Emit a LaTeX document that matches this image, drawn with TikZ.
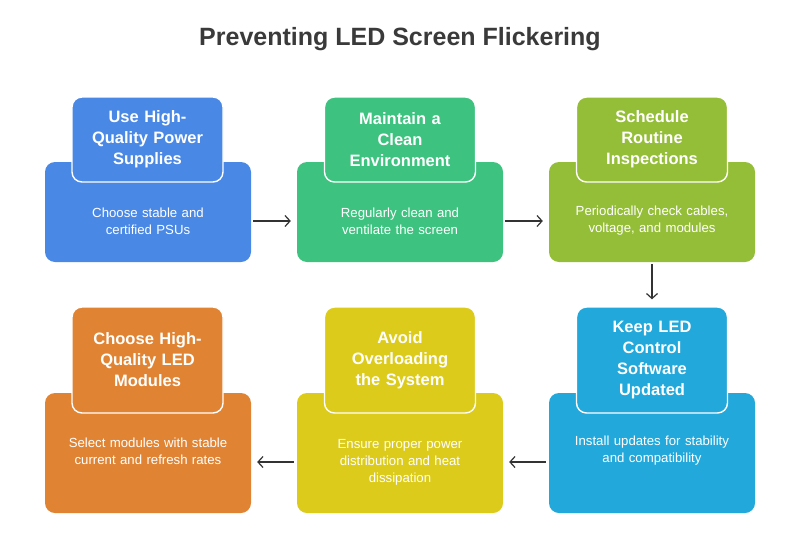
\documentclass[tikz,border=0pt]{standalone}
\usepackage{fontspec}
\setmainfont{Liberation Sans}
\usetikzlibrary{arrows.meta,calc}
\definecolor{cblue}{HTML}{4A88E6}
\definecolor{cgreen}{HTML}{3DC37F}
\definecolor{clime}{HTML}{95BE38}
\definecolor{csky}{HTML}{22A8DA}
\definecolor{cyellow}{HTML}{DCCB1A}
\definecolor{corange}{HTML}{E08434}
\definecolor{ctitle}{HTML}{3A3A3A}
\definecolor{carrow}{HTML}{333333}
\tikzset{
  basebox/.style={rounded corners=10pt, minimum width=206pt, inner sep=0pt},
  tabbox/.style={rounded corners=10pt, draw=white, line width=1.4pt, minimum width=151pt, inner sep=0pt},
  tabtext/.style={text=white, font=\fontsize{16.5}{21}\selectfont\bfseries, align=center, text width=150pt},
  bodytext/.style={text=white, font=\fontsize{13.2}{17}\selectfont, align=center, text width=204pt},
  flow/.style={draw=carrow, line width=1.2pt, -{Straight Barb[length=5pt,width=11pt]}}
}
\begin{document}
\begin{tikzpicture}[x=1pt,y=-1pt]
\useasboundingbox[fill=white] (0,0) rectangle (800,533);
\node[text=ctitle, font=\fontsize{25}{30}\selectfont\bfseries] (title) at (400,39) {Preventing LED Screen Flickering};

% top row
\node[basebox, fill=cblue, minimum height=100pt] (box1) at (148,212) {};
\node[basebox, fill=cgreen, minimum height=100pt] (box2) at (400,212) {};
\node[basebox, fill=clime, minimum height=100pt] (box3) at (652,212) {};
\node[tabbox, fill=cblue, minimum height=85pt] (tab1) at (147.5,139.5) {};
\node[tabbox, fill=cgreen, minimum height=85pt] (tab2) at (400,139.5) {};
\node[tabbox, fill=clime, minimum height=85pt] (tab3) at (652,139.5) {};
\node[tabtext] (h1) at (tab1) {Use High-\\Quality Power\\Supplies};
\node[tabtext] (h2) at (tab2) {Maintain a\\Clean\\Environment};
\node[tabtext] (h3) at (tab3) {Schedule\\Routine\\Inspections};
\node[bodytext] (txt1) at (148,221) {Choose stable and\\certified PSUs};
\node[bodytext] (txt2) at (400,221) {Regularly clean and\\ventilate the screen};
\node[bodytext] (txt3) at (652,221) {Periodically check cables,\\voltage, and modules};

% bottom row
\node[basebox, fill=corange, minimum height=120pt] (box4) at (148,453) {};
\node[basebox, fill=cyellow, minimum height=120pt] (box5) at (400,453) {};
\node[basebox, fill=csky, minimum height=120pt] (box6) at (652,453) {};
\node[tabbox, fill=corange, minimum height=106pt] (tab4) at (147.5,360) {};
\node[tabbox, fill=cyellow, minimum height=106pt] (tab5) at (400,360) {};
\node[tabbox, fill=csky, minimum height=106pt] (tab6) at (652,360) {};
\node[tabtext] (h4) at (tab4) {Choose High-\\Quality LED\\Modules};
\node[tabtext] (h5) at (tab5) {Avoid\\Overloading\\the System};
\node[tabtext] (h6) at (tab6) {Keep LED\\Control\\Software\\Updated};
\node[bodytext] (txt4) at (148,451) {Select modules with stable\\current and refresh rates};
\node[bodytext] (txt5) at (400,462) {Ensure proper power\\distribution and heat\\dissipation};
\node[bodytext] (txt6) at (652,451) {Install updates for stability\\and compatibility};

% connectors
\draw[flow, shorten <=2pt, shorten >=6pt] (txt1 -| box1.east) -- (txt1 -| box2.west);
\draw[flow, shorten <=2pt, shorten >=6pt] (txt2 -| box2.east) -- (txt2 -| box3.west);
\draw[flow, shorten <=2pt, shorten >=7pt] (box3.south) -- (tab6.north);
\draw[flow, shorten <=3pt, shorten >=6pt] (txt5 -| box6.west) -- (txt5 -| box5.east);
\draw[flow, shorten <=3pt, shorten >=6pt] (txt5 -| box5.west) -- (txt5 -| box4.east);
\end{tikzpicture}
\end{document}
